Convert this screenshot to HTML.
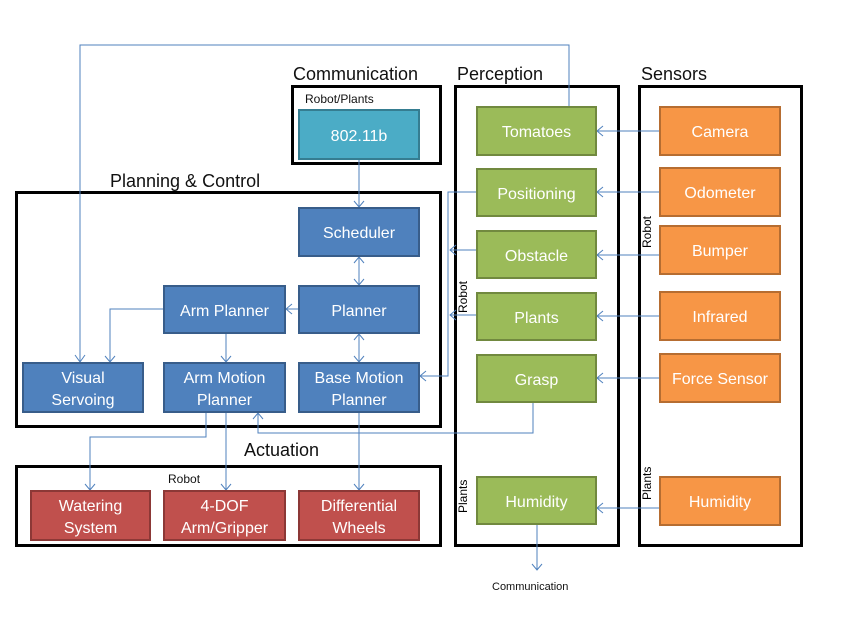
<!DOCTYPE html>
<html><head><meta charset="utf-8"><style>
body{margin:0;width:850px;height:637px;background:#fff;position:relative;overflow:hidden;font-family:"Liberation Sans",sans-serif}
.c{position:absolute;border:3px solid #000;box-sizing:border-box}
.t{position:absolute;font-size:18px;color:#111;white-space:nowrap}
.s{position:absolute;font-size:12px;color:#111;white-space:nowrap}
.b{position:absolute;box-sizing:border-box;border:2px solid;color:#fff;font-size:16px;display:flex;align-items:center;justify-content:center;text-align:center;line-height:22px;padding-top:4px}
.bl{background:#4f81bd;border-color:#385d8a}
.gr{background:#9bbb59;border-color:#71893f}
.or{background:#f79646;border-color:#b66d31}
.rd{background:#c0504d;border-color:#8c3836}
.tq{background:#4bacc6;border-color:#357d91}
.v{position:absolute;font-size:12px;transform:rotate(-90deg);transform-origin:left top;white-space:nowrap}
svg{position:absolute;left:0;top:0}
</style></head><body>
<div class="c" style="left:291px;top:85px;width:151px;height:80px"></div>
<div class="c" style="left:15px;top:191px;width:427px;height:237px"></div>
<div class="c" style="left:15px;top:465px;width:427px;height:82px"></div>
<div class="c" style="left:454px;top:85px;width:166px;height:462px"></div>
<div class="c" style="left:638px;top:85px;width:165px;height:462px"></div>
<div class="t" style="left:293px;top:64px">Communication</div>
<div class="t" style="left:457px;top:64px">Perception</div>
<div class="t" style="left:641px;top:64px">Sensors</div>
<div class="t" style="left:110px;top:171px">Planning &amp; Control</div>
<div class="t" style="left:244px;top:440px">Actuation</div>
<div class="s" style="left:305px;top:92px">Robot/Plants</div>
<div class="s" style="left:168px;top:472px">Robot</div>
<div class="s" style="left:492px;top:581px;font-size:11px">Communication</div>
<div class="v" style="left:456px;top:313px">Robot</div>
<div class="v" style="left:456px;top:513px">Plants</div>
<div class="v" style="left:640px;top:248px">Robot</div>
<div class="v" style="left:640px;top:500px">Plants</div>
<svg width="850" height="637" fill="none" stroke="#4f81bd" stroke-width="1">
<path d="M569 108V45H80V362M75 355l5 7 5-7"/>
<path d="M163 309H110V362M105 356l5 6 5-6"/>
<path d="M359 160V207M354 201l5 6 5-6"/>
<path d="M359 257V285M354 263l5-6 5 6M354 279l5 6 5-6"/>
<path d="M359 334V362M354 340l5-6 5 6M354 356l5 6 5-6"/>
<path d="M298 309H286M292 304l-6 5 6 5"/>
<path d="M226 334V362M221 356l5 6 5-6"/>
<path d="M206 413V437H90V490M85 484l5 6 5-6"/>
<path d="M226 413V490M221 484l5 6 5-6"/>
<path d="M359 413V490M354 484l5 6 5-6"/>
<path d="M533 402V433H258V413M253 419l5-6 5 6"/>
<path d="M476 192H448V376H420M426 371l-6 5 6 5"/>
<path d="M476 250H450M456 245l-6 5 6 5M476 315H450M456 310l-6 5 6 5"/>
<path d="M659 131H597M603 126l-6 5 6 5M659 192H597M603 187l-6 5 6 5M659 255H597M603 250l-6 5 6 5M659 316H597M603 311l-6 5 6 5M659 378H597M603 373l-6 5 6 5M659 508H597M603 503l-6 5 6 5"/>
<path d="M537 524V570M532 564l5 6 5-6"/>
</svg>
<div class="b tq" style="left:298px;top:109px;width:122px;height:51px">802.11b</div>
<div class="b bl" style="left:298px;top:207px;width:122px;height:50px">Scheduler</div>
<div class="b bl" style="left:298px;top:285px;width:122px;height:49px">Planner</div>
<div class="b bl" style="left:163px;top:285px;width:123px;height:49px">Arm Planner</div>
<div class="b bl" style="left:22px;top:362px;width:122px;height:51px">Visual<br>Servoing</div>
<div class="b bl" style="left:163px;top:362px;width:123px;height:51px">Arm Motion<br>Planner</div>
<div class="b bl" style="left:298px;top:362px;width:122px;height:51px">Base Motion<br>Planner</div>
<div class="b rd" style="left:30px;top:490px;width:121px;height:51px">Watering<br>System</div>
<div class="b rd" style="left:163px;top:490px;width:123px;height:51px">4-DOF<br>Arm/Gripper</div>
<div class="b rd" style="left:298px;top:490px;width:122px;height:51px">Differential<br>Wheels</div>
<div class="b gr" style="left:476px;top:106px;width:121px;height:50px">Tomatoes</div>
<div class="b gr" style="left:476px;top:168px;width:121px;height:49px">Positioning</div>
<div class="b gr" style="left:476px;top:230px;width:121px;height:49px">Obstacle</div>
<div class="b gr" style="left:476px;top:292px;width:121px;height:49px">Plants</div>
<div class="b gr" style="left:476px;top:354px;width:121px;height:49px">Grasp</div>
<div class="b gr" style="left:476px;top:476px;width:121px;height:49px">Humidity</div>
<div class="b or" style="left:659px;top:106px;width:122px;height:50px">Camera</div>
<div class="b or" style="left:659px;top:167px;width:122px;height:50px">Odometer</div>
<div class="b or" style="left:659px;top:225px;width:122px;height:50px">Bumper</div>
<div class="b or" style="left:659px;top:291px;width:122px;height:50px">Infrared</div>
<div class="b or" style="left:659px;top:353px;width:122px;height:50px">Force Sensor</div>
<div class="b or" style="left:659px;top:476px;width:122px;height:50px">Humidity</div>
</body></html>
